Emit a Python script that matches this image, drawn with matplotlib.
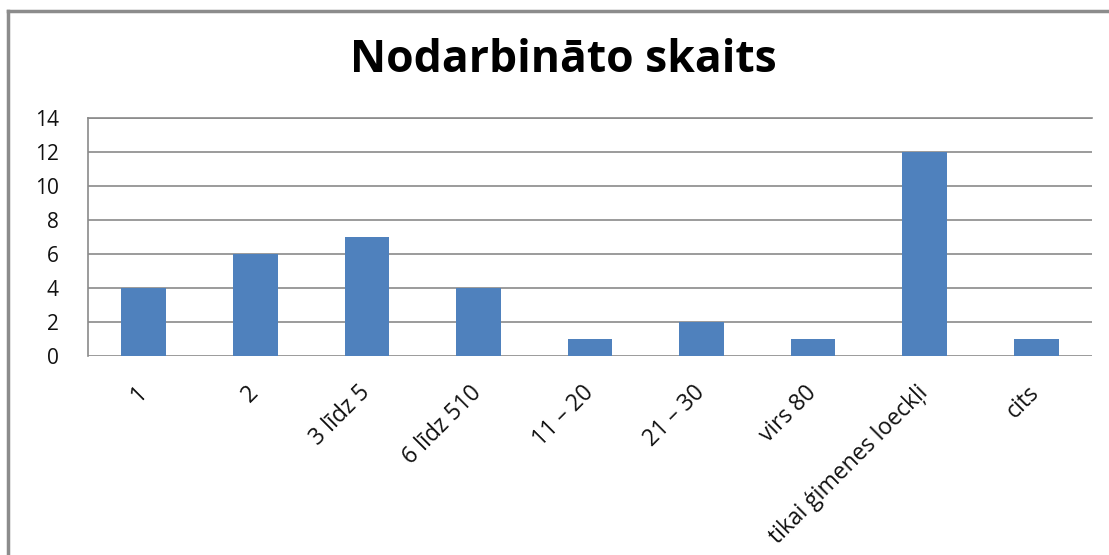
import matplotlib.pyplot as plt
from matplotlib.lines import Line2D

# Data
categories = ['1', '2', '3 līdz 5', '6 līdz 510', '11 – 20', '21 – 30',
              'virs 80', 'tikai ģimenes loeckļi', 'cits']
values = [4, 6, 7, 4, 1, 2, 1, 12, 1]

plt.rcParams['font.family'] = ['Open Sans', 'DejaVu Sans']

W, H = 1109, 555
fig = plt.figure(figsize=(W / 100, H / 100), dpi=100)
ax = fig.add_axes([88 / W, 1 - 356 / H, (1092 - 88) / W, (356 - 118) / H])

x = range(len(categories))
ax.bar(x, values, width=0.4, color='#4F81BD', zorder=3)

ax.set_xlim(-0.5, len(categories) - 0.5)
ax.set_ylim(0, 14)
ax.set_yticks(range(0, 15, 2))
ax.yaxis.grid(True, color='#8a8a8a', linewidth=1.2)
ax.set_axisbelow(True)

for s in ['right', 'bottom']:
    ax.spines[s].set_visible(False)
ax.spines['left'].set_color('#8a8a8a')
ax.spines['left'].set_linewidth(1.2)
ax.spines['top'].set_color('#8a8a8a')
ax.spines['top'].set_linewidth(1.2)

ax.tick_params(axis='y', length=0, pad=21, labelsize=15, labelcolor='#111111')
ax.tick_params(axis='x', length=0, pad=24, labelsize=16.5, labelcolor='#111111')
ax.set_xticks(list(x))
ax.set_xticklabels(categories, rotation=45, ha='right', va='center',
                   rotation_mode='anchor')

fig.suptitle('Nodarbināto skaits', fontsize=32, fontweight='bold',
             x=0.508, y=1 - 61 / H, va='center')

# outer chart frame (left and top edges)
fig.add_artist(Line2D([8 / W, 8 / W], [0, 1 - 11 / H], transform=fig.transFigure,
                      color='#8c8c8c', linewidth=2.5))
fig.add_artist(Line2D([8 / W, 1], [1 - 11 / H, 1 - 11 / H], transform=fig.transFigure,
                      color='#8c8c8c', linewidth=2.5))

fig.savefig('out.png', dpi=100)
